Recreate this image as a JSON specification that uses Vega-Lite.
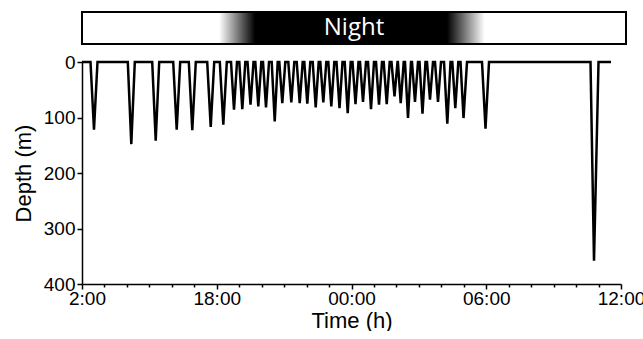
{
  "$schema": "https://vega.github.io/schema/vega-lite/v6.json",
  "padding": {"top": 11, "left": 12, "right": 0, "bottom": 0},
  "spacing": 8,
  "config": {
    "view": {"stroke": null},
    "axis": {
      "grid": false,
      "domainColor": "black",
      "domainWidth": 1.5,
      "tickColor": "black",
      "tickWidth": 1.5,
      "labelColor": "black",
      "titleColor": "black",
      "labelFont": "Liberation Sans",
      "titleFont": "Liberation Sans",
      "titleFontWeight": "normal",
      "labelFontSize": 19,
      "titleFontSize": 22
    }
  },
  "datasets": {
    "dives": [
      {"t": 0.000, "depth": 0},
      {"t": 0.378, "depth": 0}, {"t": 0.534, "depth": 122}, {"t": 0.690, "depth": 0},
      {"t": 2.039, "depth": 0}, {"t": 2.195, "depth": 148}, {"t": 2.351, "depth": 0},
      {"t": 3.126, "depth": 0}, {"t": 3.282, "depth": 142}, {"t": 3.438, "depth": 0},
      {"t": 4.061, "depth": 0}, {"t": 4.217, "depth": 122}, {"t": 4.373, "depth": 0},
      {"t": 4.756, "depth": 0}, {"t": 4.911, "depth": 123}, {"t": 5.067, "depth": 0},
      {"t": 5.575, "depth": 0}, {"t": 5.731, "depth": 117}, {"t": 5.887, "depth": 0},
      {"t": 6.136, "depth": 0}, {"t": 6.292, "depth": 113}, {"t": 6.448, "depth": 0},
      {"t": 6.635, "depth": 0}, {"t": 6.768, "depth": 86}, {"t": 6.902, "depth": 0},
      {"t": 7.004, "depth": 0}, {"t": 7.138, "depth": 85}, {"t": 7.272, "depth": 0},
      {"t": 7.370, "depth": 0}, {"t": 7.503, "depth": 77}, {"t": 7.637, "depth": 0},
      {"t": 7.717, "depth": 0}, {"t": 7.850, "depth": 80}, {"t": 7.984, "depth": 0},
      {"t": 8.060, "depth": 0}, {"t": 8.193, "depth": 82}, {"t": 8.327, "depth": 0},
      {"t": 8.447, "depth": 0}, {"t": 8.581, "depth": 107}, {"t": 8.714, "depth": 0},
      {"t": 8.785, "depth": 0}, {"t": 8.919, "depth": 74}, {"t": 9.053, "depth": 0},
      {"t": 9.186, "depth": 0}, {"t": 9.320, "depth": 73}, {"t": 9.453, "depth": 0},
      {"t": 9.560, "depth": 0}, {"t": 9.694, "depth": 74}, {"t": 9.827, "depth": 0},
      {"t": 9.898, "depth": 0}, {"t": 10.032, "depth": 75}, {"t": 10.166, "depth": 0},
      {"t": 10.273, "depth": 0}, {"t": 10.406, "depth": 82}, {"t": 10.540, "depth": 0},
      {"t": 10.611, "depth": 0}, {"t": 10.745, "depth": 73}, {"t": 10.878, "depth": 0},
      {"t": 10.967, "depth": 0}, {"t": 11.101, "depth": 80}, {"t": 11.235, "depth": 0},
      {"t": 11.332, "depth": 0}, {"t": 11.466, "depth": 83}, {"t": 11.600, "depth": 0},
      {"t": 11.697, "depth": 0}, {"t": 11.831, "depth": 92}, {"t": 11.965, "depth": 0},
      {"t": 12.045, "depth": 0}, {"t": 12.178, "depth": 76}, {"t": 12.312, "depth": 0},
      {"t": 12.379, "depth": 0}, {"t": 12.512, "depth": 72}, {"t": 12.646, "depth": 0},
      {"t": 12.735, "depth": 0}, {"t": 12.869, "depth": 85}, {"t": 13.002, "depth": 0},
      {"t": 13.091, "depth": 0}, {"t": 13.225, "depth": 77}, {"t": 13.358, "depth": 0},
      {"t": 13.434, "depth": 0}, {"t": 13.568, "depth": 76}, {"t": 13.701, "depth": 0},
      {"t": 13.781, "depth": 0}, {"t": 13.915, "depth": 62}, {"t": 14.049, "depth": 0},
      {"t": 14.066, "depth": 0}, {"t": 14.191, "depth": 74}, {"t": 14.325, "depth": 0},
      {"t": 14.382, "depth": 0}, {"t": 14.516, "depth": 101}, {"t": 14.650, "depth": 0},
      {"t": 14.694, "depth": 0}, {"t": 14.827, "depth": 72}, {"t": 14.961, "depth": 0},
      {"t": 15.028, "depth": 0}, {"t": 15.161, "depth": 93}, {"t": 15.295, "depth": 0},
      {"t": 15.362, "depth": 0}, {"t": 15.495, "depth": 68}, {"t": 15.629, "depth": 0},
      {"t": 15.718, "depth": 0}, {"t": 15.852, "depth": 72}, {"t": 15.985, "depth": 0},
      {"t": 16.119, "depth": 0}, {"t": 16.266, "depth": 111}, {"t": 16.409, "depth": 0},
      {"t": 16.489, "depth": 0}, {"t": 16.622, "depth": 83}, {"t": 16.756, "depth": 0},
      {"t": 16.854, "depth": 0}, {"t": 16.988, "depth": 101}, {"t": 17.143, "depth": 0},
      {"t": 17.811, "depth": 0}, {"t": 17.967, "depth": 120}, {"t": 18.123, "depth": 0},
      {"t": 22.642, "depth": 0}, {"t": 22.798, "depth": 358}, {"t": 22.999, "depth": 0},
      {"t": 23.555, "depth": 0}
    ],
    "phase": [{"start": 0, "end": 24, "label": "Night"}]
  },
  "vconcat": [
    {
      "width": 544,
      "height": 32,
      "data": {"name": "phase"},
      "layer": [
        {
          "mark": {
            "type": "rect",
            "stroke": "black",
            "strokeWidth": 2,
            "fill": {
              "gradient": "linear",
              "x1": 0, "x2": 1, "y1": 0, "y2": 0,
              "stops": [
                {"offset": 0, "color": "white"},
                {"offset": 0.252, "color": "white"},
                {"offset": 0.318, "color": "black"},
                {"offset": 0.671, "color": "black"},
                {"offset": 0.74, "color": "white"},
                {"offset": 1, "color": "white"}
              ]
            }
          },
          "encoding": {
            "x": {"field": "start", "type": "quantitative", "scale": {"domain": [0, 24]}, "axis": null},
            "x2": {"field": "end"}
          }
        },
        {
          "mark": {"type": "text", "color": "white", "font": "Open Sans", "fontSize": 24, "baseline": "middle", "align": "center"},
          "encoding": {
            "x": {"datum": 12, "type": "quantitative", "scale": {"domain": [0, 24]}, "axis": null},
            "text": {"field": "label"}
          }
        }
      ]
    },
    {
      "width": 539,
      "height": 222,
      "data": {"name": "dives"},
      "mark": {"type": "line", "color": "black", "strokeWidth": 2.5, "interpolate": "linear"},
      "encoding": {
        "x": {
          "field": "t", "type": "quantitative",
          "scale": {"domain": [0, 24], "nice": false, "zero": false},
          "axis": {
            "title": "Time (h)",
            "values": [0,1,2,3,4,5,6,7,8,9,10,11,12,13,14,15,16,17,18,19,20,21,22,23,24],
            "labelExpr": "datum.value == 0 ? '2:00' : datum.value == 6 ? '18:00' : datum.value == 12 ? '00:00' : datum.value == 18 ? '06:00' : datum.value == 24 ? '12:00' : ''",
            "labelOffset": {"condition": {"test": "datum.value == 0", "value": 5}, "value": 0},
            "tickSize": {"condition": {"test": "datum.value % 6 === 0", "value": 5}, "value": 3},
            "labelOverlap": false,
            "labelFlush": false,
            "labelPadding": 0,
            "titlePadding": 2
          }
        },
        "y": {
          "field": "depth", "type": "quantitative",
          "scale": {"domain": [0, 400], "reverse": true, "nice": false},
          "axis": {
            "title": "Depth (m)",
            "values": [0, 100, 200, 300, 400],
            "tickSize": 5,
            "labelPadding": 2,
            "titlePadding": 8
          }
        }
      }
    }
  ]
}
